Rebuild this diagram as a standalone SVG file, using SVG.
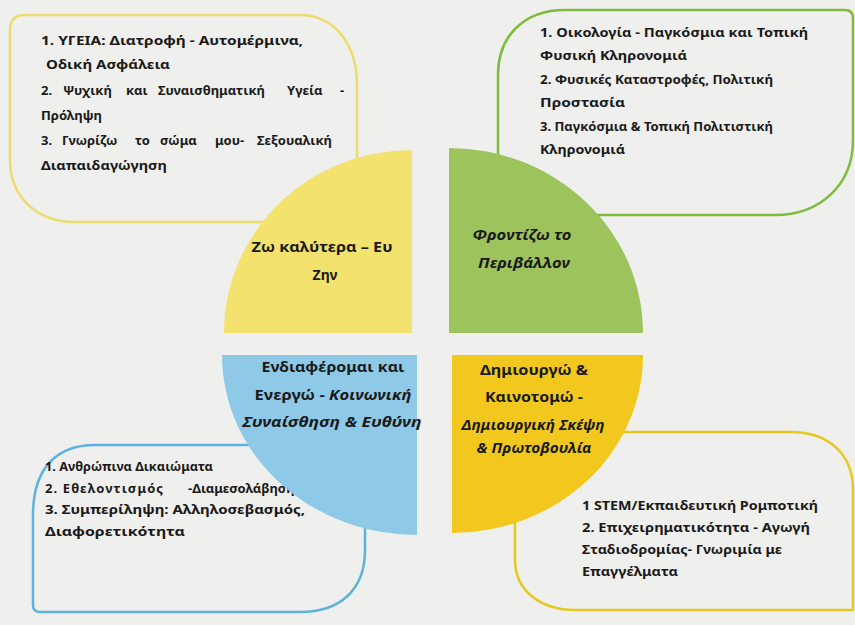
<svg xmlns="http://www.w3.org/2000/svg" width="855" height="625" viewBox="0 0 855 625">
<style>
.box{fill:none;stroke-width:2.5;stroke-linejoin:round}
.t{font-family:"Noto Sans","Liberation Sans",sans-serif;font-size:13px;font-weight:bold;fill:#1a1a1a}
.q{font-family:"Noto Sans","Liberation Sans",sans-serif;font-size:14px;font-weight:bold;fill:#1a1a1a;text-anchor:middle}
.i{font-style:italic}
</style>
<rect width="855" height="625" fill="#efefed"/>
<g id="box-health">
<path class="box" stroke="#ecdc6e" d="M10,30 Q10,15 25,15 L300,15 C335,15 357,45 357,85 L357,222 L75,222 C35,222 10,195 10,160 Z"/>
<text class="t" x="41" y="45" textLength="262" lengthAdjust="spacingAndGlyphs">1. ΥΓΕΙΑ: Διατροφή - Αυτομέρμινα,</text>
<text class="t" x="46" y="69" textLength="124" lengthAdjust="spacingAndGlyphs">Οδική Ασφάλεια</text>
<text class="t" y="95"><tspan x="41">2.</tspan><tspan x="63">Ψυχική</tspan><tspan x="126">και</tspan><tspan x="158">Συναισθηματική</tspan><tspan x="287">Υγεία</tspan><tspan x="340">-</tspan></text>
<text class="t" x="41" y="120" textLength="61" lengthAdjust="spacingAndGlyphs">Πρόληψη</text>
<text class="t" y="145"><tspan x="41">3.</tspan><tspan x="62">Γνωρίζω</tspan><tspan x="135">το</tspan><tspan x="160">σώμα</tspan><tspan x="215">μου-</tspan><tspan x="257">Σεξουαλική</tspan></text>
<text class="t" x="41" y="170" textLength="126" lengthAdjust="spacingAndGlyphs">Διαπαιδαγώγηση</text>
</g>
<g id="box-environment">
<path class="box" stroke="#7fbb3c" d="M498,215 L498,75 C498,35 525,10 565,10 L845,10 Q853,10 853,18 L853,140 C853,185 820,215 775,215 Z"/>
<text class="t" x="540" y="37" textLength="268" lengthAdjust="spacingAndGlyphs">1. Οικολογία - Παγκόσμια και Τοπική</text>
<text class="t" x="540" y="60" textLength="147" lengthAdjust="spacingAndGlyphs">Φυσική Κληρονομιά</text>
<text class="t" x="540" y="84" textLength="233" lengthAdjust="spacingAndGlyphs">2. Φυσικές Καταστροφές, Πολιτική</text>
<text class="t" x="540" y="107" textLength="85" lengthAdjust="spacingAndGlyphs">Προστασία</text>
<text class="t" x="540" y="131" textLength="233" lengthAdjust="spacingAndGlyphs">3. Παγκόσμια &amp; Τοπική Πολιτιστική</text>
<text class="t" x="540" y="154" textLength="85" lengthAdjust="spacingAndGlyphs">Κληρονομιά</text>
</g>
<g id="box-society">
<path class="box" stroke="#5db2de" d="M33,515 C33,470 55,445 95,445 L365,445 L365,550 C365,590 340,612 300,612 L40,612 Q33,612 33,605 Z"/>
<text class="t" x="45" y="471" textLength="168" lengthAdjust="spacingAndGlyphs">1. Ανθρώπινα Δικαιώματα</text>
<text class="t" y="493"><tspan x="45" letter-spacing="1.1">2. Εθελοντισμός</tspan><tspan x="188">-Διαμεσολάβηση</tspan></text>
<text class="t" x="45" y="514" textLength="260" lengthAdjust="spacingAndGlyphs">3. Συμπερίληψη: Αλληλοσεβασμός,</text>
<text class="t" x="45" y="536" textLength="140" lengthAdjust="spacingAndGlyphs">Διαφορετικότητα</text>
</g>
<g id="box-create">
<path class="box" stroke="#e6c822" d="M515,432 L790,432 C830,432 853,455 853,490 L853,610 L575,610 C540,610 515,590 515,560 Z"/>
<text class="t" x="582" y="510" textLength="236" lengthAdjust="spacingAndGlyphs">1 STEM/Εκπαιδευτική Ρομποτική</text>
<text class="t" x="582" y="532" textLength="228" lengthAdjust="spacingAndGlyphs">2. Επιχειρηματικότητα - Αγωγή</text>
<text class="t" x="582" y="554" textLength="200" lengthAdjust="spacingAndGlyphs">Σταδιοδρομίας- Γνωριμία με</text>
<text class="t" x="582" y="576" textLength="96" lengthAdjust="spacingAndGlyphs">Επαγγέλματα</text>
</g>
<g id="q-live-better">
<path fill="#f3e26e" d="M412,333 L224,333 A188,183 0 0 1 412,150 Z"/>
<text class="q" x="322" y="252" textLength="141" lengthAdjust="spacingAndGlyphs">Ζω καλύτερα – Ευ</text>
<text class="q" x="325" y="280">Ζην</text>
</g>
<g id="q-environment">
<path fill="#9dc45c" d="M449,333 L449,148 A194,185 0 0 1 643,333 Z"/>
<text class="q i" x="522" y="240" textLength="99" lengthAdjust="spacingAndGlyphs">Φροντίζω το</text>
<text class="q i" x="524" y="268" textLength="92" lengthAdjust="spacingAndGlyphs">Περιβάλλον</text>
</g>
<g id="q-society">
<path fill="#8ecae8" d="M417,355 L417,535 A195,180 0 0 1 222,355 Z"/>
<text class="q" x="333" y="372" textLength="143" lengthAdjust="spacingAndGlyphs">Ενδιαφέρομαι και</text>
<text class="q" x="333" y="400" textLength="157" lengthAdjust="spacingAndGlyphs">Ενεργώ - <tspan class="i">Κοινωνική</tspan></text>
<text class="q i" x="332" y="427" textLength="179" lengthAdjust="spacingAndGlyphs">Συναίσθηση &amp; Ευθύνη</text>
</g>
<g id="q-create">
<path fill="#f2c81e" d="M452,355 L643,355 A191,178 0 0 1 452,533 Z"/>
<text class="q" x="534" y="375" textLength="108" lengthAdjust="spacingAndGlyphs">Δημιουργώ &amp;</text>
<text class="q" x="534" y="402" textLength="98" lengthAdjust="spacingAndGlyphs">Καινοτομώ -</text>
<text class="q i" x="533" y="430" textLength="143" lengthAdjust="spacingAndGlyphs">Δημιουργική Σκέψη</text>
<text class="q i" x="534" y="453" textLength="115" lengthAdjust="spacingAndGlyphs">&amp; Πρωτοβουλία</text>
</g>
<g id="connectors"></g>
</svg>
